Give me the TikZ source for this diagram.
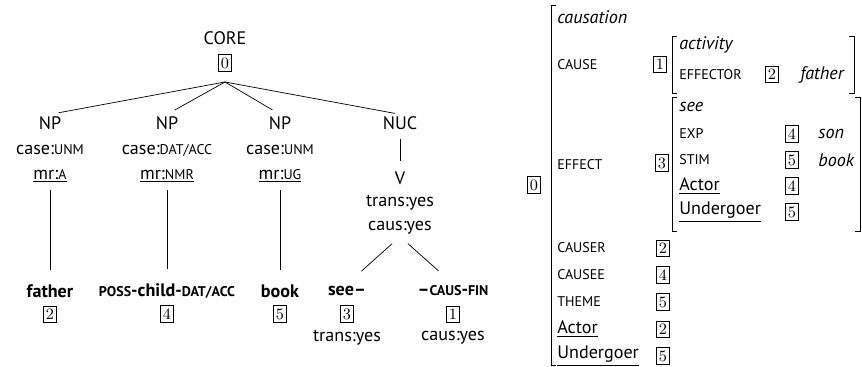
\documentclass[tikz,border=0pt]{standalone}
\usepackage{fontspec}
\newfontfamily\biofont{PT Sans}
\usetikzlibrary{calc}
\newcommand{\tagbox}[1]{{\setlength{\fboxsep}{1.3pt}\setlength{\fboxrule}{0.5pt}\fbox{\normalfont\small #1}}}
\newcommand{\fsc}[1]{{\fontsize{8}{9}\selectfont\MakeUppercase{#1}}}
\tikzstyle{lbl}=[font=\biofont\fontsize{10.3}{12}\selectfont,inner sep=1pt]
\tikzstyle{attr}=[font=\biofont\fontsize{10.3}{12}\selectfont,anchor=west,inner sep=0pt]
\tikzstyle{tagnode}=[inner sep=0pt]
\tikzstyle{branch}=[shorten <=3pt,shorten >=7pt]
\tikzstyle{vbranch}=[shorten <=6pt,shorten >=11pt]

\begin{document}
\begin{tikzpicture}[x=0.02cm,y=-0.02cm]
	\useasboundingbox (0,0) rectangle (862,367);
	\def \row {291};

	% tree
	\node[lbl] (core) at (225,38) {CORE};
	\node[tagnode] (t0) at (225,63) {\tagbox{0}};
	\coordinate (top) at (225,82);

	\node[lbl] (np1) at (50,123) {NP};
	\node[lbl] (case1) at (50,150) {case:\fsc{unm}};
	\node[lbl] (mr1) at (50,176) {\underline{mr:\fsc{a}}};

	\node[lbl] (np2) at (167,123) {NP};
	\node[lbl] (case2) at (167,150) {case:\fsc{dat/acc}};
	\node[lbl] (mr2) at (167,176) {\underline{mr:\fsc{nmr}}};

	\node[lbl] (np3) at (280,123) {NP};
	\node[lbl] (case3) at (280,150) {case:\fsc{unm}};
	\node[lbl] (mr3) at (280,176) {\underline{mr:\fsc{ug}}};

	\node[lbl] (nuc) at (400,123) {NUC};
	\node[lbl] (v) at (400,178) {V};
	\node[lbl] (vtrans) at (400,203) {trans:yes};
	\node[lbl] (vcaus) at (400,228) {caus:yes};

	\node[lbl] (w1) at (50,\row) {\textbf{father}};
	\node[lbl] (w2) at (167,\row) {\textbf{\fsc{poss}-child-\fsc{dat/acc}}};
	\node[lbl] (w3) at (280,\row) {\textbf{book}};
	\node[lbl] (w4) at (347,\row) {\textbf{see–}};
	\node[lbl] (w5) at (453,\row) {\textbf{–\fsc{caus}-\fsc{fin}}};

	\node[tagnode] (t2) at (50,314) {\tagbox{2}};
	\node[tagnode] (t4) at (167,314) {\tagbox{4}};
	\node[tagnode] (t5) at (280,314) {\tagbox{5}};
	\node[tagnode] (t3) at (347,314) {\tagbox{3}};
	\node[tagnode] (t1) at (453,314) {\tagbox{1}};
	\node[lbl] (trans) at (347,338) {trans:yes};
	\node[lbl] (caus) at (453,338) {caus:yes};

	\draw[-,shorten >=5pt] (top) -- (np1.north);
	\draw[-,shorten >=5pt] (top) -- (np2.north);
	\draw[-,shorten >=5pt] (top) -- (np3.north);
	\draw[-,shorten >=3pt] (top) -- (nuc.north);
	\draw[-,branch] (mr1.south) -- (w1.north);
	\draw[-,branch] (mr2.south) -- (w2.north);
	\draw[-,branch] (mr3.south) -- (w3.north);
	\draw[-,shorten <=4pt,shorten >=5pt] (nuc.south) -- (v.north);
	\draw[-,vbranch] (vcaus.south) -- (w4.north);
	\draw[-,vbranch] (vcaus.south) -- (w5.north);

	% avm
	\draw (556,5) -- (551,5) -- (551,365) -- (556,365);
	\node[tagnode] (a0) at (534,185) {\tagbox{0}};
	\node[attr] (causation) at (557,17) {\textit{causation}};
	\node[attr] (cause) at (557,65) {\fsc{cause}};
	\node[tagnode] (a1) at (660,64) {\tagbox{1}};
	\draw (677,36) -- (672,36) -- (672,93) -- (677,93);
	\draw (849,36) -- (854,36) -- (854,93) -- (849,93);
	\node[attr] (activity) at (679,45) {\textit{activity}};
	\node[attr] (effector) at (679,75) {\fsc{effector}};
	\node[tagnode] (a2) at (772,74) {\tagbox{2}};
	\node[attr] (father) at (800,75) {\textit{father}};

	\node[attr] (effect) at (557,165) {\fsc{effect}};
	\node[tagnode] (a3) at (662,163) {\tagbox{3}};
	\draw (677,97) -- (672,97) -- (672,231) -- (677,231);
	\draw (855,97) -- (860,97) -- (860,231) -- (855,231);
	\node[attr] (see) at (679,107) {\textit{see}};
	\node[attr] (exp) at (679,134) {\fsc{exp}};
	\node[tagnode] (a4) at (792,134) {\tagbox{4}};
	\node[attr] (son) at (818,134) {\textit{son}};
	\node[attr] (stim) at (679,160) {\fsc{stim}};
	\node[tagnode] (a5) at (792,160) {\tagbox{5}};
	\node[attr] (book) at (818,160) {\textit{book}};
	\node[attr] (actor1) at (679,186) {\underline{Actor}};
	\node[tagnode] (a6) at (792,186) {\tagbox{4}};
	\node[attr] (ug1) at (679,212) {\underline{Undergoer}};
	\node[tagnode] (a7) at (792,212) {\tagbox{5}};

	\node[attr] (causer) at (557,248) {\fsc{causer}};
	\node[tagnode] (b1) at (663,248) {\tagbox{2}};
	\node[attr] (causee) at (557,275) {\fsc{causee}};
	\node[tagnode] (b2) at (663,275) {\tagbox{4}};
	\node[attr] (theme) at (557,302) {\fsc{theme}};
	\node[tagnode] (b3) at (663,302) {\tagbox{5}};
	\node[attr] (actor2) at (557,329) {\underline{Actor}};
	\node[tagnode] (b4) at (663,329) {\tagbox{2}};
	\node[attr] (ug2) at (557,356) {\underline{Undergoer}};
	\node[tagnode] (b5) at (663,356) {\tagbox{5}};
\end{tikzpicture}
\end{document}
